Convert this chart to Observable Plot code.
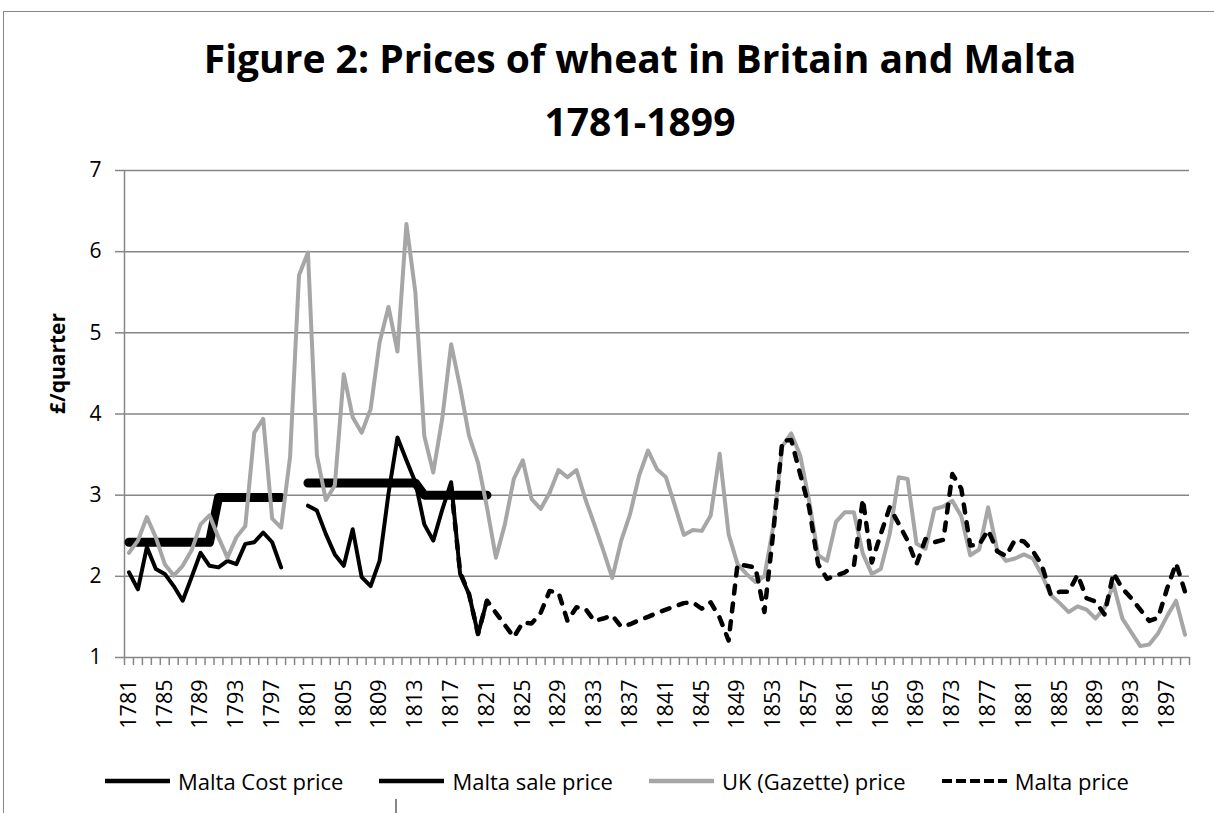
<!DOCTYPE html>
<html>
<head>
<meta charset="utf-8">
<script src="https://cdn.jsdelivr.net/npm/d3@7"></script>
<script src="https://cdn.jsdelivr.net/npm/@observablehq/plot@0.6"></script>
<style>
  html, body { margin: 0; padding: 0; background: #fff; }
  #wrap { position: relative; width: 1214px; height: 813px; overflow: hidden; font-family: "Open Sans", sans-serif; color: #000; }
  #border { position: absolute; left: 3px; top: 11px; width: 1400px; height: 1000px; border-left: 1.5px solid #868686; border-top: 1.5px solid #868686; }
  #stray { position: absolute; left: 395px; top: 799px; width: 1.5px; height: 14px; background: #868686; }
  #title { position: absolute; left: 3px; width: 1274px; top: 31px; text-align: center; font-weight: 700; font-size: 39px; line-height: 53px; }
  #title div + div { margin-top: 10px; }
  #chart { position: absolute; left: 0; top: 150px; }
  #legend { position: absolute; left: 105px; top: 765.5px; display: flex; align-items: center; font-size: 22px; line-height: 30px; white-space: nowrap; }
  .item { display: flex; align-items: center; margin-right: 36px; }
  .item svg { margin-right: 8px; display: block; }
</style>
</head>
<body>
<div id="wrap">
  <div id="border"></div>
  <div id="stray"></div>
  <div id="title"></div>
  <div id="chart"></div>
  <div id="legend"></div>
</div>
<script>
// ---------- data ----------
const titleLines = ["Figure 2: Prices of wheat in Britain and Malta", "1781-1899"];
const yAxisLabel = "£/quarter";
const firstYear = 1781;
const lastYear = 1899;
const years = d3.range(firstYear, lastYear + 1);
const labelYears = years.filter((y, i) => i % 4 === 0);
const yTicks = [1, 2, 3, 4, 5, 6, 7];
const seriesNames = ["Malta Cost price", "Malta sale price", "UK (Gazette) price", "Malta price"];

// Malta cost price, 1781-1821
const maltaCostStart = 1781;
const maltaCost = [
  2.05, 1.84, 2.36, 2.09, 2.03, 1.88, 1.70, 1.99, 2.29, 2.13,
  2.11, 2.19, 2.15, 2.40, 2.42, 2.54, 2.42, 2.11, null, null,
  2.87, 2.81, 2.52, 2.27, 2.13, 2.58, 1.99, 1.88, 2.19, 3.02,
  3.71, 3.43, 3.16, 2.64, 2.44, 2.82, 3.16, 2.03, 1.78, 1.29,
  1.70
];

// Malta sale price, 1781-1821
const maltaSaleStart = 1781;
const maltaSale = [
  2.42, 2.42, 2.42, 2.42, 2.42, 2.42, 2.42, 2.42, 2.42, 2.42,
  2.97, 2.97, 2.97, 2.97, 2.97, 2.97, 2.97, 2.97, null, null,
  3.15, 3.15, 3.15, 3.15, 3.15, 3.15, 3.15, 3.15, 3.15, 3.15,
  3.15, 3.15, 3.15, 3.00, 3.00, 3.00, 3.00, 3.00, 3.00, 3.00,
  3.00
];

// UK (Gazette) price, 1781-1899
const ukStart = 1781;
const ukPrice = [
  2.29, 2.44, 2.73, 2.48, 2.15, 2.01, 2.13, 2.32, 2.64, 2.75,
  2.48, 2.23, 2.48, 2.62, 3.77, 3.94, 2.71, 2.60, 3.47, 5.71,
  5.99, 3.49, 2.94, 3.12, 4.49, 3.96, 3.77, 4.06, 4.88, 5.32,
  4.77, 6.34, 5.50, 3.73, 3.28, 3.94, 4.86, 4.33, 3.73, 3.40,
  2.85, 2.23, 2.64, 3.20, 3.43, 2.95, 2.83, 3.03, 3.31, 3.22,
  3.31, 2.95, 2.64, 2.32, 1.98, 2.44, 2.77, 3.24, 3.55, 3.32,
  3.22, 2.87, 2.51, 2.57, 2.56, 2.75, 3.51, 2.52, 2.15, 2.03,
  1.93, 2.00, 2.62, 3.60, 3.76, 3.49, 2.93, 2.26, 2.19, 2.67,
  2.79, 2.79, 2.28, 2.03, 2.09, 2.52, 3.22, 3.20, 2.40, 2.34,
  2.83, 2.86, 2.93, 2.74, 2.26, 2.33, 2.85, 2.33, 2.19, 2.22,
  2.27, 2.22, 2.02, 1.77, 1.67, 1.56, 1.63, 1.59, 1.48, 1.61,
  1.90, 1.48, 1.31, 1.14, 1.16, 1.30, 1.51, 1.70, 1.28
];

// Malta price, 1817-1899
const maltaPriceStart = 1817;
const maltaPrice = [
  3.10, 2.05, 1.78, 1.29, 1.70, 1.55, 1.40, 1.25, 1.43, 1.42,
  1.55, 1.82, 1.80, 1.45, 1.62, 1.60, 1.45, 1.48, 1.52, 1.38,
  1.41, 1.46, 1.50, 1.55, 1.59, 1.63, 1.67, 1.68, 1.60, 1.68,
  1.49, 1.21, 2.15, 2.13, 2.11, 1.56, 2.55, 3.67, 3.68, 3.26,
  2.85, 2.15, 1.97, 2.01, 2.05, 2.13, 2.95, 2.17, 2.52, 2.85,
  2.65, 2.44, 2.15, 2.46, 2.42, 2.45, 3.26, 3.08, 2.38, 2.39,
  2.57, 2.31, 2.25, 2.45, 2.43, 2.31, 2.14, 1.77, 1.81, 1.81,
  2.02, 1.73, 1.69, 1.53, 2.04, 1.85, 1.73, 1.59, 1.45, 1.49,
  1.85, 2.16, 1.81
];

// ---------- helpers ----------
const toRows = (start, values) => values.map((v, i) => ({year: start + i, value: v}));
const xDomain = [firstYear - 0.5, lastYear + 0.5];
const tickBounds = years.map(y => y - 0.5).concat([lastYear + 0.5]);

const styles = [
  {stroke: "#000", strokeWidth: 4},
  {stroke: "#000", strokeWidth: 9},
  {stroke: "#A6A6A6", strokeWidth: 4},
  {stroke: "#000", strokeWidth: 4.5, strokeDasharray: "8,10"}
];
const seriesData = [
  toRows(maltaCostStart, maltaCost),
  toRows(maltaSaleStart, maltaSale),
  toRows(ukStart, ukPrice),
  toRows(maltaPriceStart, maltaPrice)
];

// ---------- title ----------
document.getElementById("title").innerHTML = titleLines.map(t => `<div>${t}</div>`).join("");

// ---------- chart ----------
const plot = Plot.plot({
  width: 1214,
  height: 600,
  marginLeft: 124,
  marginRight: 25,
  marginTop: 20,
  marginBottom: 93,
  style: {fontFamily: "Open Sans", fontSize: "21px", color: "#000", background: "transparent", overflow: "visible"},
  x: {type: "linear", domain: xDomain, label: null},
  y: {domain: [1, 7], label: null},
  marks: [
    Plot.gridY(yTicks, {stroke: "#868686", strokeOpacity: 1, strokeWidth: 1.5}),
    Plot.ruleX([xDomain[0]], {stroke: "#868686", strokeWidth: 1.5}),
    Plot.axisY(yTicks, {tickSize: 9, tickPadding: 14, stroke: "#868686", strokeWidth: 1.5, fill: "#000", label: null, tickFormat: d => String(d)}),
    Plot.axisX(tickBounds, {tickSize: 8, stroke: "#868686", strokeWidth: 1.5, text: null, label: null}),
    Plot.axisX(labelYears, {tickSize: 0, tickPadding: 16, dy: 6, tickRotate: -90, fill: "#000", fontSize: 21.5, label: null, tickFormat: d => String(d)}),
    Plot.text([yAxisLabel], {frameAnchor: "left", dx: -66, rotate: -90, fontWeight: "bold", fontSize: 21, fill: "#000"}),
    ...seriesData.map((rows, i) => Plot.line(rows, {
      x: "year", y: "value",
      strokeLinecap: "round", strokeLinejoin: "round",
      ...styles[i]
    }))
  ]
});
document.getElementById("chart").appendChild(plot);

// ---------- legend ----------
const legend = document.getElementById("legend");
seriesNames.forEach((name, i) => {
  const s = styles[i];
  const item = document.createElement("div");
  item.className = "item";
  const lw = i === 3 ? 4 : 4.5;
  const dash = i === 3 ? 'stroke-dasharray="10,4"' : "";
  item.innerHTML = `<svg width="65" height="10"><line x1="0" x2="65" y1="5" y2="5" stroke="${s.stroke}" stroke-width="${lw}" ${dash}/></svg><span>${name}</span>`;
  legend.appendChild(item);
});
</script>
</body>
</html>
